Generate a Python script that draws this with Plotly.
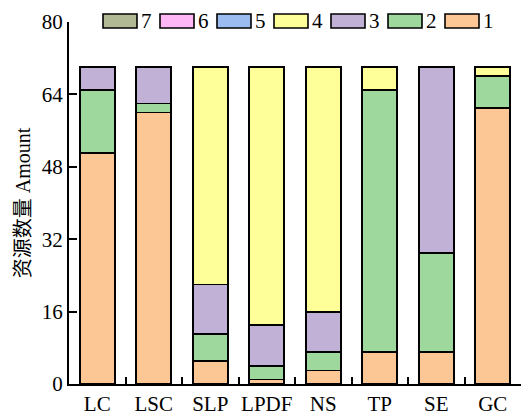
import plotly.graph_objects as go

# Stacked resource counts per site type
categories = ["LC", "LSC", "SLP", "LPDF", "NS", "TP", "SE", "GC"]
s1 = [51, 60, 5, 1, 3, 7, 7, 61]
s2 = [14, 2, 6, 3, 4, 58, 22, 7]
s3 = [5, 8, 11, 9, 9, 0, 41, 0]
s4 = [0, 0, 48, 57, 54, 5, 0, 2]
s5 = [0, 0, 0, 0, 0, 0, 0, 0]
s6 = [0, 0, 0, 0, 0, 0, 0, 0]
s7 = [0, 0, 0, 0, 0, 0, 0, 0]

series_names = ["1", "2", "3", "4", "5", "6", "7"]
series_values = [s1, s2, s3, s4, s5, s6, s7]
series_colors = ["#fdc795", "#9fd89c", "#c2b1d7", "#ffff99",
                 "#9bbcf0", "#ffb8f5", "#b1b894"]

y_ticks = [0, 16, 32, 48, 64, 80]

W, H = 521, 411
ML, MR, MT, MB = 69, 0, 22, 27
FONT = "Liberation Serif, Times New Roman, Noto Sans CJK SC, serif"

fig = go.Figure()
for name, vals, col in zip(series_names, series_values, series_colors):
    fig.add_trace(go.Bar(
        x=categories, y=vals, name=name,
        marker=dict(color=col, line=dict(color="black", width=1.8)),
        width=0.62, showlegend=False,
    ))

# Legend drawn as wide outlined swatches, ordered 7 .. 1 left to right
pw = W - ML - MR
ph = H - MT - MB


def px_x(x):
    return (x - ML) / pw


def px_y(y):
    return (H - MB - y) / ph


shapes = []
annotations = []
x0 = 103
step = 57
sw, sh = 34, 14
ycen = 21
for i, (name, col) in enumerate(zip(series_names[::-1], series_colors[::-1])):
    lx = x0 + i * step
    shapes.append(dict(
        type="rect", xref="paper", yref="paper",
        x0=px_x(lx), x1=px_x(lx + sw),
        y0=px_y(ycen + sh / 2), y1=px_y(ycen - sh / 2),
        fillcolor=col, line=dict(color="black", width=1.6),
    ))
    annotations.append(dict(
        xref="paper", yref="paper", x=px_x(lx + sw + 2), y=px_y(ycen),
        xanchor="left", yanchor="middle", text=name, showarrow=False,
        font=dict(family=FONT, size=21, color="black"),
    ))

fig.update_layout(
    barmode="stack",
    width=W, height=H,
    margin=dict(l=ML, r=MR, t=MT, b=MB, pad=0, autoexpand=False),
    plot_bgcolor="white", paper_bgcolor="white",
    font=dict(family=FONT, size=20, color="black"),
    shapes=shapes, annotations=annotations,
    bargap=0.38,
)
fig.update_xaxes(
    type="category", range=[-0.5, 7.5],
    showline=True, linecolor="black", linewidth=2,
    ticks="inside", tickson="boundaries", ticklen=7, tickwidth=2,
    tickcolor="black", showgrid=False, zeroline=False,
    tickangle=0, automargin=False,
    tickfont=dict(family=FONT, size=21),
)
fig.update_yaxes(
    range=[0, 80], tickvals=y_ticks,
    showline=True, linecolor="black", linewidth=2,
    ticks="inside", ticklen=8, tickwidth=2, tickcolor="black",
    showgrid=False, zeroline=False, automargin=False,
    tickfont=dict(family=FONT, size=21),
    title=dict(text="资源数量 Amount", font=dict(family=FONT, size=20), standoff=6),
)

fig.write_html("out.html")
